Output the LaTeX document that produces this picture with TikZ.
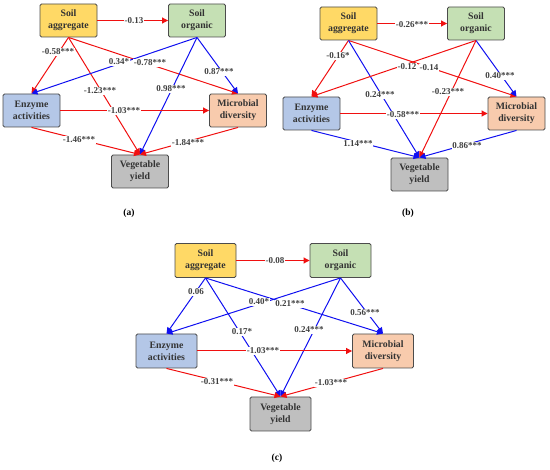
\documentclass[tikz,border=0pt]{standalone}
\usepackage{fontspec}
\setmainfont{Liberation Serif}
\usetikzlibrary{arrows.meta}
\definecolor{cSA}{HTML}{FFD966}
\definecolor{cSO}{HTML}{C5E0B4}
\definecolor{cEA}{HTML}{B4C7E7}
\definecolor{cMD}{HTML}{F8CBAD}
\definecolor{cVY}{HTML}{BFBFBF}
\definecolor{edgeR}{HTML}{F01010}
\definecolor{edgeB}{HTML}{1010F0}
\definecolor{labc}{HTML}{404040}
\begin{document}
\begin{tikzpicture}[x=1pt,y=-1pt,
  box/.style={draw=black!70, line width=0.9pt, rounded corners=1.5pt, minimum width=57pt, minimum height=33pt, align=center, font=\fontsize{9.8}{11.8}\selectfont\bfseries, text=black!80, inner sep=1pt},
  boxc/.style={box, minimum width=61pt, minimum height=34pt},
  rline/.style={draw=edgeR, line width=1pt, -{Triangle[length=6pt,width=6pt]}},
  bline/.style={draw=edgeB, line width=1pt, -{Triangle[length=6pt,width=6pt]}},
  elab/.style={fill=white, inner sep=0.5pt, font=\fontsize{9}{10}\selectfont\bfseries, text=labc},
  captxt/.style={font=\fontsize{9.5}{10}\selectfont\bfseries, text=black}
]
\useasboundingbox (0,0) rectangle (550,470);

% ---------- panel (a)
\node[box, fill=cSA] (aSA) at (68.5,20.5) {Soil\\aggregate};
\node[box, fill=cSO] (aSO) at (197,20.5) {Soil\\organic};
\node[box, fill=cEA] (aEA) at (31.5,110.5) {Enzyme\\activities};
\node[box, fill=cMD] (aMD) at (238,110.5) {Microbial\\diversity};
\node[box, fill=cVY] (aVY) at (140,171.5) {Vegetable\\yield};
\draw[rline] (aSA.east) -- (aSO.west);
\draw[rline] (aSA.south) -- (aEA.north);
\draw[rline] (aSA.south) -- (aMD.north);
\draw[rline] (aSA.south) -- (aVY.north);
\draw[bline] (aSO.south) -- (aEA.north);
\draw[bline] (aSO.south) -- (aMD.north);
\draw[bline] (aSO.south) -- (aVY.north);
\draw[rline] (aEA.east) -- (aMD.west);
\draw[rline] (aEA.south) -- (aVY.north);
\draw[rline] (aMD.south) -- (aVY.north);
\node[elab] (la1) at (134,21) {-0.13};
\node[elab] (la2) at (58,52) {-0.58***};
\node[elab] (la3) at (119,62) {0.34*};
\node[elab] (la4) at (150,63) {-0.78***};
\node[elab] (la5) at (219,72) {0.87***};
\node[elab] (la6) at (100,91) {-1.23***};
\node[elab] (la7) at (171,89) {0.98***};
\node[elab] (la8) at (124,111) {-1.03***};
\node[elab] (la9) at (79,140) {-1.46***};
\node[elab] (la10) at (188,143) {-1.84***};
\node[captxt] (capa) at (129,213) {(a)};

% ---------- panel (b)
\node[box, fill=cSA] (bSA) at (348.5,23.5) {Soil\\aggregate};
\node[box, fill=cSO] (bSO) at (476,23.5) {Soil\\organic};
\node[box, fill=cEA] (bEA) at (311.5,113.5) {Enzyme\\activities};
\node[box, fill=cMD] (bMD) at (516.5,113.5) {Microbial\\diversity};
\node[box, fill=cVY] (bVY) at (419.5,174.5) {Vegetable\\yield};
\draw[rline] (bSA.east) -- (bSO.west);
\draw[rline] (bSA.south) -- (bEA.north);
\draw[rline] (bSA.south) -- (bMD.north);
\draw[bline] (bSA.south) -- (bVY.north);
\draw[rline] (bSO.south) -- (bEA.north);
\draw[bline] (bSO.south) -- (bMD.north);
\draw[rline] (bSO.south) -- (bVY.north);
\draw[rline] (bEA.east) -- (bMD.west);
\draw[bline] (bEA.south) -- (bVY.north);
\draw[bline] (bMD.south) -- (bVY.north);
\node[elab] (lb1) at (412,25) {-0.26***};
\node[elab] (lb2) at (338,56) {-0.16*};
\node[elab] (lb3) at (407,67) {-0.12};
\node[elab] (lb4) at (429,68) {-0.14};
\node[elab] (lb5) at (500,76) {0.40***};
\node[elab] (lb6) at (380,95) {0.24***};
\node[elab] (lb7) at (448,92) {-0.23***};
\node[elab] (lb8) at (403,115) {-0.58***};
\node[elab] (lb9) at (358,144) {1.14***};
\node[elab] (lb10) at (467,146) {0.86***};
\node[captxt] (capb) at (408,213) {(b)};

% ---------- panel (c)
\node[boxc, fill=cSA] (cSAn) at (205.5,260.5) {Soil\\aggregate};
\node[boxc, fill=cSO] (cSOn) at (340.5,260.5) {Soil\\organic};
\node[boxc, fill=cEA] (cEAn) at (166.5,351) {Enzyme\\activities};
\node[boxc, fill=cMD] (cMDn) at (383,351) {Microbial\\diversity};
\node[boxc, fill=cVY] (cVYn) at (280.5,414) {Vegetable\\yield};
\draw[rline] (cSAn.east) -- (cSOn.west);
\draw[bline] (cSAn.south) -- (cEAn.north);
\draw[bline] (cSAn.south) -- (cMDn.north);
\draw[bline] (cSAn.south) -- (cVYn.north);
\draw[bline] (cSOn.south) -- (cEAn.north);
\draw[bline] (cSOn.south) -- (cMDn.north);
\draw[bline] (cSOn.south) -- (cVYn.north);
\draw[rline] (cEAn.east) -- (cMDn.west);
\draw[rline] (cEAn.south) -- (cVYn.north);
\draw[rline] (cMDn.south) -- (cVYn.north);
\node[elab] (lc1) at (275,261) {-0.08};
\node[elab] (lc2) at (196,292) {0.06};
\node[elab] (lc3) at (259,302) {0.40*};
\node[elab] (lc4) at (290,304) {0.21***};
\node[elab] (lc5) at (365,313) {0.56***};
\node[elab] (lc6) at (242,332) {0.17*};
\node[elab] (lc7) at (309,330) {0.24***};
\node[elab] (lc8) at (263,351) {-1.03***};
\node[elab] (lc9) at (217,382) {-0.31***};
\node[elab] (lc10) at (331,383) {-1.03***};
\node[captxt] (capc) at (277,458) {(c)};
\end{tikzpicture}
\end{document}
